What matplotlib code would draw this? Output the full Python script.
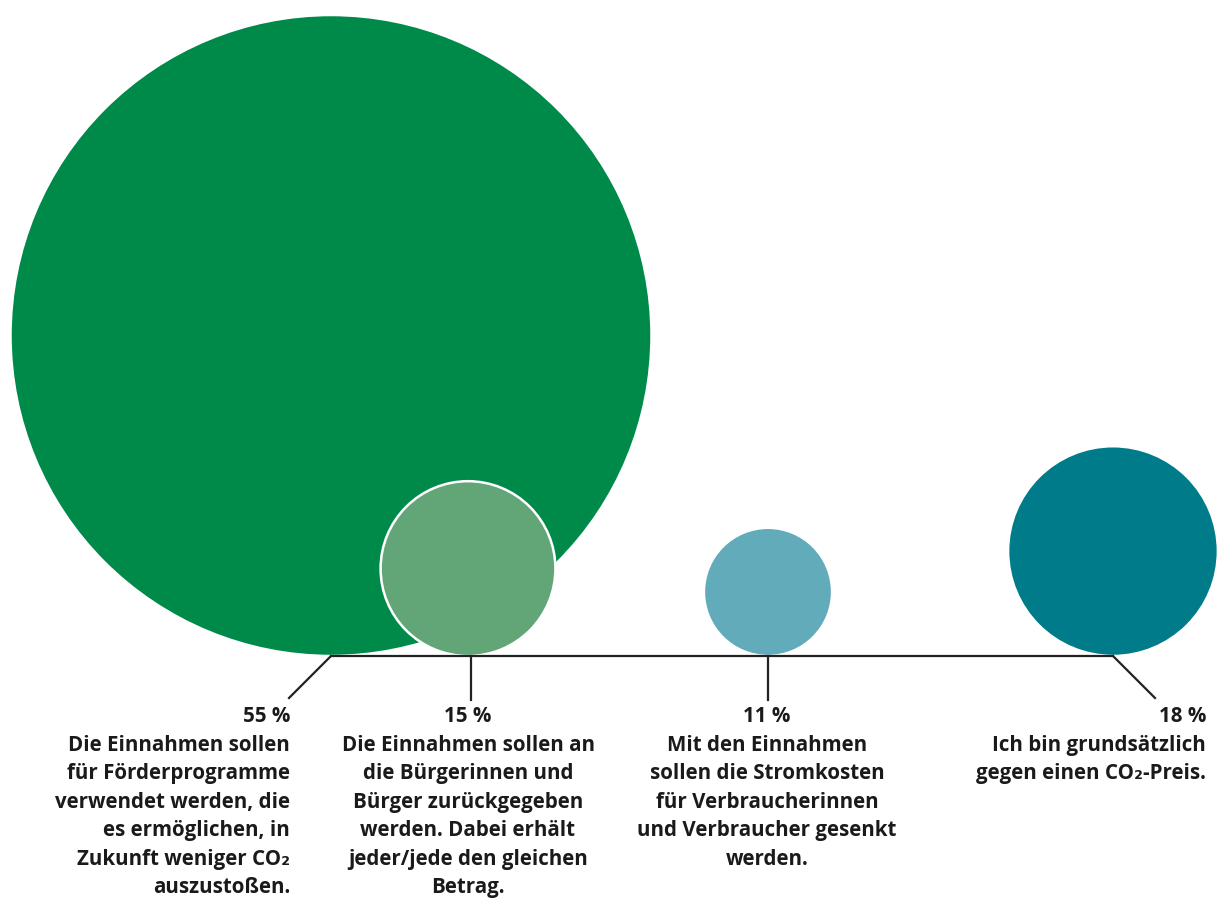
import matplotlib
matplotlib.use("Agg")
import matplotlib.pyplot as plt
from matplotlib.patches import Circle

# Data
values = [55, 15, 11, 18]
pct_labels = ["55 %", "15 %", "11 %", "18 %"]
descriptions = [
    "Die Einnahmen sollen\nfür Förderprogramme\nverwendet werden, die\nes ermöglichen, in\nZukunft weniger CO\u2082\nauszustoßen.",
    "Die Einnahmen sollen an\ndie Bürgerinnen und\nBürger zurückgegeben\nwerden. Dabei erhält\njeder/jede den gleichen\nBetrag.",
    "Mit den Einnahmen\nsollen die Stromkosten\nfür Verbraucherinnen\nund Verbraucher gesenkt\nwerden.",
    "Ich bin grundsätzlich\ngegen einen CO\u2082-Preis.",
]
colors = ["#008A4A", "#62A678", "#62ABBA", "#007B8A"]

# Layout (pixel coordinates)
W, H = 1219, 898
centers_x = [331, 468, 768, 1113]
baseline = 656
scale = 320.5 / 55  # radius per percent
label_x = [290, 468, 767, 1206]
label_ha = ["right", "center", "center", "right"]
connector_end = [(289, 698), (471, 700), (768, 700), (1155, 698)]
connector_start_x = [331, 471, 768, 1113]

fig = plt.figure(figsize=(W / 100, H / 100), dpi=100)
ax = fig.add_axes([0, 0, 1, 1])
ax.set_xlim(0, W)
ax.set_ylim(H, 0)
ax.set_aspect("equal")
ax.axis("off")

for v, cx, c in zip(values, centers_x, colors):
    r = v * scale
    ax.add_patch(Circle((cx, baseline - r), r, facecolor=c, edgecolor="white", lw=1.8, zorder=2))

ax.plot([centers_x[0], centers_x[-1]], [baseline, baseline], color="#222222", lw=1.6, zorder=3)
for sx, (ex, ey) in zip(connector_start_x, connector_end):
    ax.plot([sx, ex], [baseline, ey], color="#222222", lw=1.6, zorder=3)

fam = ["Open Sans", "DejaVu Sans"]
for lx, ha, p, d in zip(label_x, label_ha, pct_labels, descriptions):
    ax.text(lx, 706, p + "\n" + d, ha=ha, va="top", multialignment=ha,
            fontsize=14.8, fontweight="bold", family=fam, color="#1a1a1a",
            linespacing=1.47)

fig.savefig("out.png", dpi=100)
